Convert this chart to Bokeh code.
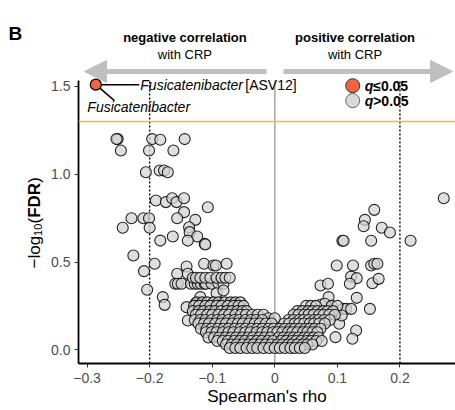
import math
from bokeh.plotting import figure
from bokeh.layouts import row
from bokeh.models import (Range1d, FixedTicker, CustomJSTickFormatter, Span, Label,
                          Arrow, NormalHead)
from bokeh.embed import file_html
from bokeh.resources import INLINE

# ---------------- data ----------------
# significant taxon (q <= 0.05)
sig_rho = [-0.286]
sig_fdr = [1.51]

# non-significant taxa: negative tail (rho, -log10 FDR)
neg_tail = [(-0.251, 1.20), (-0.253, 1.20), (-0.196, 1.20), (-0.183, 1.196), (-0.144, 1.20),
            (-0.246, 1.135), (-0.201, 1.135), (-0.162, 1.135),
            (-0.206, 1.011), (-0.184, 1.021), (-0.177, 1.021), (-0.171, 1.011),
            (-0.190, 0.850), (-0.174, 0.841), (-0.164, 0.863), (-0.157, 0.841), (-0.145, 0.863),
            (-0.107, 0.812), (-0.145, 0.784),
            (-0.229, 0.749), (-0.210, 0.749), (-0.201, 0.749), (-0.156, 0.749), (-0.127, 0.740),
            (-0.243, 0.695), (-0.200, 0.695), (-0.137, 0.698), (-0.136, 0.670), (-0.124, 0.645),
            (-0.183, 0.622), (-0.163, 0.645), (-0.139, 0.622), (-0.112, 0.603), (-0.111, 0.600),
            (-0.226, 0.537), (-0.192, 0.490), (-0.209, 0.448), (-0.141, 0.474),
            (-0.156, 0.433), (-0.139, 0.433), (-0.113, 0.490),
            (-0.098, 0.480), (-0.094, 0.480), (-0.077, 0.490),
            (-0.159, 0.376), (-0.155, 0.376), (-0.149, 0.376), (-0.134, 0.376), (-0.128, 0.376),
            (-0.123, 0.376), (-0.118, 0.376), (-0.112, 0.376), (-0.110, 0.376), (-0.101, 0.376),
            (-0.090, 0.376), (-0.082, 0.376),
            (-0.131, 0.410), (-0.126, 0.410), (-0.119, 0.410), (-0.111, 0.410), (-0.103, 0.410),
            (-0.093, 0.410), (-0.085, 0.410), (-0.079, 0.410), (-0.072, 0.410),
            (-0.204, 0.342), (-0.179, 0.300), (-0.176, 0.256), (-0.119, 0.300), (-0.141, 0.243),
            (-0.126, 0.256), (-0.139, 0.167), (-0.093, 0.322), (-0.082, 0.338), (-0.127, 0.262)]

# non-significant taxa: positive tail
pos_tail = [(0.108, 0.621), (0.110, 0.621), (0.154, 0.621), (0.217, 0.621),
            (0.099, 0.480), (0.125, 0.480), (0.154, 0.480), (0.159, 0.490), (0.164, 0.490),
            (0.073, 0.366), (0.085, 0.376), (0.122, 0.417), (0.131, 0.408), (0.120, 0.376),
            (0.156, 0.379), (0.166, 0.404),
            (0.086, 0.300), (0.131, 0.296), (0.074, 0.258), (0.080, 0.262),
            (0.109, 0.233), (0.114, 0.233), (0.122, 0.233), (0.152, 0.233),
            (0.130, 0.110), (0.124, 0.063), (0.097, 0.072), (0.103, 0.148), (0.107, 0.195),
            (0.270, 0.863), (0.159, 0.797), (0.144, 0.740), (0.142, 0.704),
            (0.171, 0.695), (0.184, 0.668)]

# dense core near rho = 0, by FDR band
core_levels = [0.27, 0.25, 0.22, 0.20, 0.18, 0.17, 0.15, 0.12, 0.10, 0.07, 0.05, 0.03, 0.01]
core_left = [
    [-0.125, -0.116, -0.108, -0.098, -0.090, -0.080, -0.071, -0.063, -0.055],
    [-0.129, -0.121, -0.111, -0.103, -0.093, -0.085, -0.075, -0.066, -0.058, -0.050],
    [-0.131, -0.122, -0.114, -0.104, -0.096, -0.086, -0.077, -0.069, -0.060, -0.052, -0.045],
    [-0.126, -0.118, -0.108, -0.100, -0.090, -0.081, -0.073, -0.063, -0.054, -0.046, -0.036, -0.027, -0.018],
    [-0.010, 0.000],
    [-0.128, -0.119, -0.111, -0.101, -0.092, -0.084, -0.074, -0.065, -0.057, -0.047, -0.038, -0.030, -0.020],
    [-0.122, -0.113, -0.105, -0.095, -0.086, -0.078, -0.068, -0.059, -0.051, -0.041, -0.032, -0.024, -0.014, -0.005],
    [-0.118, -0.109, -0.101, -0.091, -0.082, -0.074, -0.064, -0.055, -0.047, -0.037, -0.028, -0.020, -0.010, -0.002],
    [-0.110, -0.101, -0.093, -0.083, -0.074, -0.066, -0.056, -0.047, -0.039, -0.029, -0.020, -0.012, -0.003],
    [-0.106, -0.097, -0.089, -0.079, -0.070, -0.062, -0.052, -0.043, -0.035, -0.025, -0.016, -0.007],
    [-0.092, -0.083, -0.075, -0.065, -0.056, -0.048, -0.038, -0.029, -0.021, -0.011, -0.003],
    [-0.078, -0.069, -0.061, -0.051, -0.042, -0.034, -0.024, -0.015, -0.006],
    [-0.072, -0.063, -0.055, -0.045, -0.036, -0.028, -0.018, -0.009, 0.000],
]
core_right = [
    [],
    [0.050, 0.058, 0.066, 0.091, 0.100],
    [0.036, 0.044, 0.053, 0.060, 0.068, 0.077, 0.084, 0.093],
    [0.030, 0.038, 0.047, 0.054, 0.062, 0.071, 0.078, 0.087, 0.096],
    [],
    [0.022, 0.030, 0.039, 0.046, 0.054, 0.063, 0.070, 0.079, 0.088],
    [0.015, 0.023, 0.032, 0.039, 0.047, 0.056, 0.063, 0.071, 0.080],
    [0.008, 0.016, 0.025, 0.032, 0.040, 0.049, 0.056, 0.064, 0.073],
    [0.004, 0.012, 0.021, 0.028, 0.036, 0.045, 0.052, 0.060, 0.068],
    [0.006, 0.014, 0.023, 0.030, 0.038, 0.047, 0.054, 0.062, 0.070],
    [0.010, 0.018, 0.027, 0.034, 0.042, 0.051, 0.058, 0.066, 0.075],
    [0.004, 0.012, 0.021, 0.028, 0.036, 0.045, 0.052, 0.060],
    [0.008, 0.016, 0.025, 0.032, 0.040, 0.048],
]

x_ticks = [-0.3, -0.2, -0.1, 0.0, 0.1, 0.2]
y_ticks = [0.0, 0.5, 1.0, 1.5]
fdr_cut = 1.3          # -log10(0.05)
rho_guides = [-0.2, 0.2]

# ---------------- assemble ----------------
ns_rho, ns_fdr = [], []
for r, f in neg_tail + pos_tail:
    ns_rho.append(r); ns_fdr.append(f)
for lvl, lrow, rrow in zip(core_levels, core_left, core_right):
    for r in lrow + rrow:
        ns_rho.append(r); ns_fdr.append(lvl)

# ---------------- layout ----------------
FONT = "Liberation Sans"
LW = 48                 # side strip holding the panel letter and the y title
W, H = 455 - LW, 410
BL, BB = 28, 47
frame_w, frame_h = W - BL, H - BB
x0, x1 = -0.3137, 0.2888
y_scale = 175.6
y0 = -0.078
y1 = y0 + frame_h / y_scale
panel_top = 1.534
x_scale = frame_w / (x1 - x0)

p = figure(width=W, height=H, x_range=Range1d(x0, x1), y_range=Range1d(y0, y1),
           output_backend="svg", toolbar_location=None,
           min_border_left=BL, min_border_right=0, min_border_top=0, min_border_bottom=BB)
p.outline_line_color = None
p.xgrid.visible = False
p.ygrid.visible = False
p.background_fill_color = "white"
p.border_fill_color = "white"

for ax in (p.xaxis, p.yaxis):
    ax.axis_line_width = 1.8
    ax.axis_line_color = "black"
    ax.major_tick_in = 0
    ax.major_tick_out = 4
    ax.major_tick_line_color = "#333333"
    ax.minor_tick_line_color = None
    ax.major_label_text_font = FONT
    ax.major_label_text_font_size = "14px"
    ax.major_label_text_color = "#4d4d4d"

p.xaxis.ticker = FixedTicker(ticks=x_ticks)
p.xaxis.formatter = CustomJSTickFormatter(code="""
    if (Math.abs(tick) < 1e-9) return "0";
    return (tick < 0 ? "\\u2212" : "") + Math.abs(tick).toFixed(1);""")
p.xaxis.major_label_standoff = 5
p.xaxis.axis_label = "Spearman's rho"
p.xaxis.axis_label_text_font = FONT
p.xaxis.axis_label_text_font_size = "17px"
p.xaxis.axis_label_text_font_style = "normal"
p.xaxis.axis_label_text_color = "black"
p.xaxis.axis_label_standoff = 1
p.yaxis.ticker = FixedTicker(ticks=y_ticks)
p.yaxis.formatter = CustomJSTickFormatter(code="return tick.toFixed(1);")
p.yaxis.major_label_standoff = 4
p.yaxis.bounds = (y0, panel_top)

# guide lines
p.segment(x0=[0], y0=[y0], x1=[0], y1=[panel_top], line_color="#a6a6a6", line_width=1.5)
p.segment(x0=rho_guides, y0=[y0] * 2, x1=rho_guides, y1=[panel_top] * 2,
          line_color="black", line_width=1.4, line_dash="2 2")
p.add_layout(Span(location=fdr_cut, dimension="width", line_color="#f3b63f", line_width=1.5))

# points
p.scatter(ns_rho, ns_fdr, size=11, fill_color="#d4d4d4", fill_alpha=0.75,
          line_color="black", line_width=1.1, line_alpha=0.85)

# label connectors for the significant point
lab1_x = sig_rho[0] + (137 - 93.3) / x_scale
lab2_x = sig_rho[0] + (112 - 93.3) / x_scale
lab2_y = sig_fdr[0] - (100 - 84) / y_scale
p.segment(x0=[sig_rho[0], sig_rho[0]], y0=[sig_fdr[0], sig_fdr[0]],
          x1=[lab1_x, lab2_x], y1=[sig_fdr[0], lab2_y], line_color="black", line_width=1.5)
p.scatter(sig_rho, sig_fdr, size=11, fill_color="#f26440", line_color="black", line_width=1.2)


def lab(fig, x, y, text, size="14px", style="normal", align="left", baseline="middle",
        color="black", xo=0, yo=0, angle=0):
    fig.add_layout(Label(x=x, y=y, text=text, text_font=FONT, text_font_size=size,
                         text_font_style=style, text_align=align, text_baseline=baseline,
                         text_color=color, x_offset=xo, y_offset=yo, angle=angle))


lab(p, lab1_x, sig_fdr[0], "Fusicatenibacter", style="italic", xo=1)
lab(p, lab1_x, sig_fdr[0], " [ASV12]", xo=106)
lab(p, sig_rho[0], sig_fdr[0], "Fusicatenibacter", style="italic", xo=-8.5, yo=-22)

# legend
leg_x = 0.1245
leg_y = [1.504, 1.419]
p.scatter([leg_x], [leg_y[0]], size=14, fill_color="#f26440", line_color="#333333", line_width=1)
p.scatter([leg_x], [leg_y[1]], size=14, fill_color="#d9d9d9", line_color="#666666", line_width=1)
for yy, t in zip(leg_y, ["\u22640.05", ">0.05"]):
    lab(p, leg_x, yy, "q", style="bold italic", xo=12)
    lab(p, leg_x, yy, t, style="bold", xo=20.5)

# direction arrows and captions
arr_y = 1.585
gray = "#bfbfbf"
p.add_layout(Arrow(end=NormalHead(size=22, fill_color=gray, line_color=gray),
                   x_start=-0.0132, y_start=arr_y, x_end=-0.3041, y_end=arr_y,
                   line_color=gray, line_width=5))
p.add_layout(Arrow(end=NormalHead(size=22, fill_color=gray, line_color=gray),
                   x_start=0.0138, y_start=arr_y, x_end=0.2841, y_end=arr_y,
                   line_color=gray, line_width=5))
lab(p, -0.1436, 1.778, "negative correlation", size="13px", style="bold", align="center", baseline="alphabetic")
lab(p, -0.1436, 1.683, "with CRP", size="13px", align="center", baseline="alphabetic")
lab(p, 0.1283, 1.778, "positive correlation", size="13px", style="bold", align="center", baseline="alphabetic")
lab(p, 0.1283, 1.683, "with CRP", size="13px", align="center", baseline="alphabetic")

# ---------------- side strip: panel letter and y title ----------------
# its frame is aligned with the main frame (top 0 .. 363 px), so y = 363 - pixel row
FH = H - BB
side = figure(width=LW, height=H, x_range=Range1d(0, LW), y_range=Range1d(0, FH),
              output_backend="svg", toolbar_location=None,
              x_axis_location=None, y_axis_location=None,
              min_border_left=0, min_border_right=0, min_border_top=0, min_border_bottom=BB)
side.outline_line_color = None
side.xgrid.visible = False
side.ygrid.visible = False
side.border_fill_color = "white"

lab(side, 8, FH - 33, "B", size="19px", style="bold", baseline="alphabetic")
tx, ty = 33.5, FH - 268
rot = math.pi / 2
lab(side, tx, ty, "\u2212log", size="17px", baseline="alphabetic", angle=rot)
lab(side, tx + 4, ty + 32.6, "10", size="11px", baseline="alphabetic", angle=rot)
lab(side, tx, ty + 45, "(", size="17px", baseline="alphabetic", angle=rot)
lab(side, tx, ty + 50.7, "FDR", size="17px", style="bold", baseline="alphabetic", angle=rot)
lab(side, tx, ty + 85.8, ")", size="17px", baseline="alphabetic", angle=rot)

layout = row(side, p, spacing=0)
open("out.html", "w").write(file_html(layout, INLINE))
